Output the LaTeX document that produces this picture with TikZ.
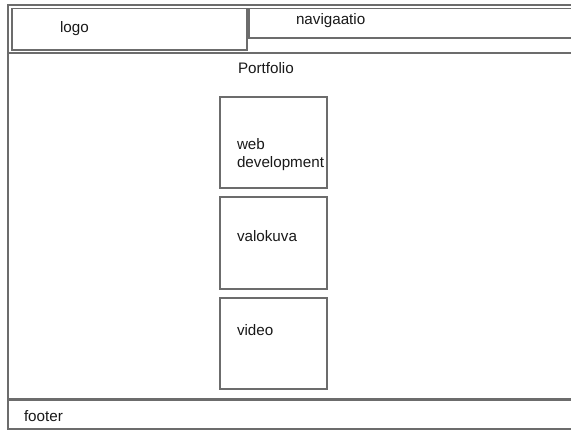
\documentclass[tikz,border=0pt]{standalone}
\usepackage{fontspec}
\setmainfont{Liberation Sans}
\usetikzlibrary{positioning}

\begin{document}
\begin{tikzpicture}[x=1pt,y=-1pt,every node/.style={inner sep=0pt,outer sep=0pt}]
        \tikzset{wf_area/.style = {draw=gray!85!black,line width=1.1pt,anchor=north west}}
        \tikzset{wf_box/.style = {draw=gray!85!black,line width=1.1pt,anchor=north west,minimum width=107pt}}
        \tikzset{wf_text/.style = {anchor=base west,font=\fontsize{15.2}{18}\selectfont,text=black!90}}

    \clip (0,0) rectangle (571,430);
    \fill[white] (0,0) rectangle (571,430);

    % page areas, open to the right
    \node[wf_area,minimum width=620pt,minimum height=47.5pt] (header) at (8,5) {};
    \node[wf_area,minimum width=235pt,minimum height=41.5pt] (logo) at (12,8.5) {};
    \node[wf_area,minimum width=400pt,minimum height=29.5pt] (navi) at (249,8.5) {};
    \node[wf_area,minimum width=620pt,minimum height=346pt] (main) at (8,53) {};
    \node[wf_area,minimum width=620pt,minimum height=29pt] (footer) at (8,400) {};

    % portfolio boxes
    \node[wf_box,minimum height=91pt] (webdev) at (220,97) {};
    \node[wf_box,minimum height=92pt,below=9pt of webdev.south west,anchor=north west] (valokuva) {};
    \node[wf_box,minimum height=91pt,below=9pt of valokuva.south west,anchor=north west] (video) {};

    % labels
    \node[wf_text] (logo_t) at (60,33) {logo};
    \node[wf_text] (navi_t) at (296,25) {navigaatio};
    \node[wf_text] (port_t) at (238,74) {Portfolio};
    \node[wf_text,anchor=north west,align=left] (webdev_t) at (237,138) {web\\development};
    \node[wf_text] (valokuva_t) at (237,242) {valokuva};
    \node[wf_text] (video_t) at (237,336) {video};
    \node[wf_text] (footer_t) at (24,421.5) {footer};
    \end{tikzpicture}
\end{document}
